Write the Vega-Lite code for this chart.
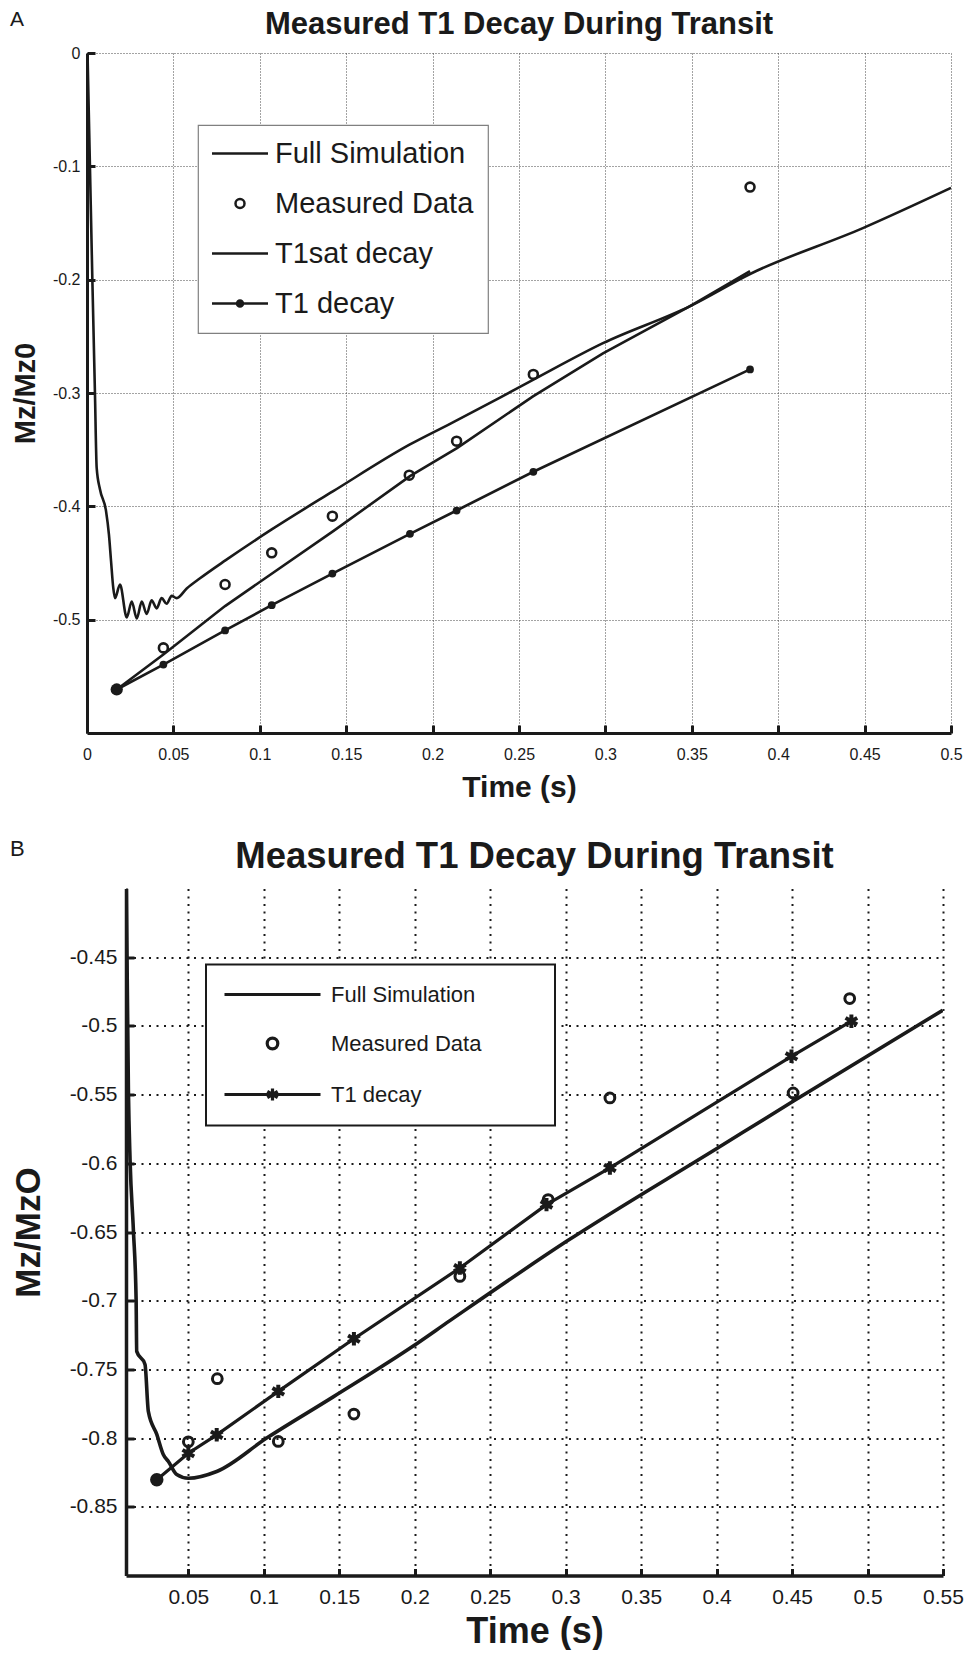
{
  "$schema": "https://vega.github.io/schema/vega-lite/v6.json",
  "background": "white",
  "padding": {"left": 10, "top": 9, "right": 0, "bottom": 0},
  "config": {
    "view": {"stroke": null},
    "font": "Liberation Sans",
    "title": {"font": "Liberation Sans", "color": "#1a1a1a"},
    "axis": {"labelFont": "Liberation Sans", "titleFont": "Liberation Sans", "labelColor": "#1a1a1a", "titleColor": "#1a1a1a", "domainColor": "#1a1a1a", "tickColor": "#1a1a1a", "labelFlush": false, "labelOverlap": false, "titleFontWeight": "bold"}
  },
  "datasets": {
    "panelA": [
      {"series": "Full Simulation", "time": 0.0003, "mz": 0},
      {"series": "Full Simulation", "time": 0.001, "mz": -0.05},
      {"series": "Full Simulation", "time": 0.0017, "mz": -0.1},
      {"series": "Full Simulation", "time": 0.0031, "mz": -0.2},
      {"series": "Full Simulation", "time": 0.0046, "mz": -0.3},
      {"series": "Full Simulation", "time": 0.0056, "mz": -0.366},
      {"series": "Full Simulation", "time": 0.0075, "mz": -0.385},
      {"series": "Full Simulation", "time": 0.011, "mz": -0.404},
      {"series": "Full Simulation", "time": 0.0127, "mz": -0.425},
      {"series": "Full Simulation", "time": 0.0139, "mz": -0.448},
      {"series": "Full Simulation", "time": 0.0152, "mz": -0.472},
      {"series": "Full Simulation", "time": 0.0162, "mz": -0.481},
      {"series": "Full Simulation", "time": 0.0191, "mz": -0.469},
      {"series": "Full Simulation", "time": 0.023, "mz": -0.498},
      {"series": "Full Simulation", "time": 0.0259, "mz": -0.484},
      {"series": "Full Simulation", "time": 0.0288, "mz": -0.499},
      {"series": "Full Simulation", "time": 0.0317, "mz": -0.484},
      {"series": "Full Simulation", "time": 0.0345, "mz": -0.495},
      {"series": "Full Simulation", "time": 0.0374, "mz": -0.483},
      {"series": "Full Simulation", "time": 0.0403, "mz": -0.49},
      {"series": "Full Simulation", "time": 0.0432, "mz": -0.481},
      {"series": "Full Simulation", "time": 0.0461, "mz": -0.486},
      {"series": "Full Simulation", "time": 0.049, "mz": -0.479},
      {"series": "Full Simulation", "time": 0.0519, "mz": -0.481},
      {"series": "Full Simulation", "time": 0.0577, "mz": -0.4725},
      {"series": "Full Simulation", "time": 0.0654, "mz": -0.4635},
      {"series": "Full Simulation", "time": 0.0803, "mz": -0.4475},
      {"series": "Full Simulation", "time": 0.1069, "mz": -0.4204},
      {"series": "Full Simulation", "time": 0.1425, "mz": -0.3866},
      {"series": "Full Simulation", "time": 0.1869, "mz": -0.3454},
      {"series": "Full Simulation", "time": 0.2101, "mz": -0.3272},
      {"series": "Full Simulation", "time": 0.239, "mz": -0.304},
      {"series": "Full Simulation", "time": 0.2581, "mz": -0.2884},
      {"series": "Full Simulation", "time": 0.2986, "mz": -0.256},
      {"series": "Full Simulation", "time": 0.349, "mz": -0.2233},
      {"series": "Full Simulation", "time": 0.3837, "mz": -0.195},
      {"series": "Full Simulation", "time": 0.449, "mz": -0.1545},
      {"series": "Full Simulation", "time": 0.5, "mz": -0.119},
      {"series": "T1sat decay", "time": 0.0172, "mz": -0.5616},
      {"series": "T1sat decay", "time": 0.0442, "mz": -0.5307},
      {"series": "T1sat decay", "time": 0.0799, "mz": -0.488},
      {"series": "T1sat decay", "time": 0.1425, "mz": -0.4219},
      {"series": "T1sat decay", "time": 0.1869, "mz": -0.3733},
      {"series": "T1sat decay", "time": 0.2141, "mz": -0.3486},
      {"series": "T1sat decay", "time": 0.2581, "mz": -0.303},
      {"series": "T1sat decay", "time": 0.2986, "mz": -0.265},
      {"series": "T1sat decay", "time": 0.349, "mz": -0.2233},
      {"series": "T1sat decay", "time": 0.3837, "mz": -0.1924},
      {"series": "T1 decay", "marker": "start", "time": 0.0172, "mz": -0.5616},
      {"series": "T1 decay", "marker": "step", "time": 0.0442, "mz": -0.5396},
      {"series": "T1 decay", "marker": "step", "time": 0.0799, "mz": -0.5095},
      {"series": "T1 decay", "marker": "step", "time": 0.1069, "mz": -0.4872},
      {"series": "T1 decay", "marker": "step", "time": 0.142, "mz": -0.4593},
      {"series": "T1 decay", "marker": "step", "time": 0.1869, "mz": -0.4243},
      {"series": "T1 decay", "marker": "step", "time": 0.2139, "mz": -0.4037},
      {"series": "T1 decay", "marker": "step", "time": 0.2583, "mz": -0.3695},
      {"series": "T1 decay", "marker": "step", "time": 0.3837, "mz": -0.2792},
      {"series": "Measured Data", "time": 0.0442, "mz": -0.5249},
      {"series": "Measured Data", "time": 0.0799, "mz": -0.469},
      {"series": "Measured Data", "time": 0.1069, "mz": -0.441},
      {"series": "Measured Data", "time": 0.142, "mz": -0.4087},
      {"series": "Measured Data", "time": 0.1865, "mz": -0.3725},
      {"series": "Measured Data", "time": 0.2139, "mz": -0.3425},
      {"series": "Measured Data", "time": 0.2583, "mz": -0.2836},
      {"series": "Measured Data", "time": 0.3837, "mz": -0.1183}
    ],
    "panelB": [
      {"series": "Full Simulation", "time": 0.0088, "mz": -0.39},
      {"series": "Full Simulation", "time": 0.0103, "mz": -0.5476},
      {"series": "Full Simulation", "time": 0.0114, "mz": -0.5978},
      {"series": "Full Simulation", "time": 0.0136, "mz": -0.6488},
      {"series": "Full Simulation", "time": 0.0154, "mz": -0.699},
      {"series": "Full Simulation", "time": 0.0158, "mz": -0.7369},
      {"series": "Full Simulation", "time": 0.0213, "mz": -0.7464},
      {"series": "Full Simulation", "time": 0.0235, "mz": -0.7806},
      {"series": "Full Simulation", "time": 0.0291, "mz": -0.7973},
      {"series": "Full Simulation", "time": 0.0334, "mz": -0.8119},
      {"series": "Full Simulation", "time": 0.0368, "mz": -0.817},
      {"series": "Full Simulation", "time": 0.0423, "mz": -0.8265},
      {"series": "Full Simulation", "time": 0.05, "mz": -0.8292},
      {"series": "Full Simulation", "time": 0.0688, "mz": -0.8243},
      {"series": "Full Simulation", "time": 0.1019, "mz": -0.8},
      {"series": "Full Simulation", "time": 0.146, "mz": -0.77},
      {"series": "Full Simulation", "time": 0.199, "mz": -0.733},
      {"series": "Full Simulation", "time": 0.2233, "mz": -0.7145},
      {"series": "Full Simulation", "time": 0.3006, "mz": -0.6568},
      {"series": "Full Simulation", "time": 0.3999, "mz": -0.5894},
      {"series": "Full Simulation", "time": 0.4507, "mz": -0.5549},
      {"series": "Full Simulation", "time": 0.5498, "mz": -0.4886},
      {"series": "T1 decay", "marker": "start", "time": 0.0291, "mz": -0.8303},
      {"series": "T1 decay", "marker": "step", "time": 0.05, "mz": -0.811},
      {"series": "T1 decay", "marker": "step", "time": 0.0688, "mz": -0.7976},
      {"series": "T1 decay", "marker": "step", "time": 0.1096, "mz": -0.766},
      {"series": "T1 decay", "marker": "step", "time": 0.1597, "mz": -0.7277},
      {"series": "T1 decay", "marker": "step", "time": 0.2299, "mz": -0.6762},
      {"series": "T1 decay", "marker": "step", "time": 0.2873, "mz": -0.6301},
      {"series": "T1 decay", "marker": "step", "time": 0.3293, "mz": -0.6034},
      {"series": "T1 decay", "marker": "step", "time": 0.4496, "mz": -0.5221},
      {"series": "T1 decay", "marker": "step", "time": 0.4893, "mz": -0.4966},
      {"series": "Measured Data", "time": 0.05, "mz": -0.8027},
      {"series": "Measured Data", "time": 0.0692, "mz": -0.7568},
      {"series": "Measured Data", "time": 0.1096, "mz": -0.8024},
      {"series": "Measured Data", "time": 0.1597, "mz": -0.7825},
      {"series": "Measured Data", "time": 0.2299, "mz": -0.6823},
      {"series": "Measured Data", "time": 0.2884, "mz": -0.6264},
      {"series": "Measured Data", "time": 0.3293, "mz": -0.5524},
      {"series": "Measured Data", "time": 0.4507, "mz": -0.5488},
      {"series": "Measured Data", "time": 0.4882, "mz": -0.4801}
    ]
  },
  "resolve": {"scale": {"color": "independent", "size": "independent"}, "legend": {"color": "independent", "size": "independent"}},
  "spacing": 35.5,
  "vconcat": [
    {
      "title": {"text": "A", "anchor": "start", "frame": "bounds", "fontSize": 21, "fontWeight": "normal", "offset": -21},
      "spacing": 0,
      "hconcat": [
        {"width": 1, "height": 1, "data": {"values": []}, "mark": {"type": "point"}},
        {
          "width": 864,
          "height": 680,
          "title": {"text": "Measured T1 Decay During Transit", "fontSize": 31, "fontWeight": "bold", "anchor": "middle", "offset": 4},
          "data": {"name": "panelA"},
          "encoding": {
            "x": {"field": "time", "type": "quantitative", "scale": {"domain": [0, 0.5], "nice": false, "zero": false},
              "axis": {"values": [0, 0.05, 0.1, 0.15, 0.2, 0.25, 0.3, 0.35, 0.4, 0.45, 0.5], "labelExpr": "'' + datum.value", "title": "Time (s)", "titleFontSize": 30, "titlePadding": 0, "minExtent": 39, "maxExtent": 39, "labelFontSize": 16, "labelPadding": 21, "tickSize": -8, "tickWidth": 3, "domainWidth": 3, "grid": true, "gridDash": [1, 2], "gridColor": "#333", "gridOpacity": 0.9, "gridWidth": 1}},
            "y": {"field": "mz", "type": "quantitative", "scale": {"domain": [-0.6, 0], "nice": false, "zero": false},
              "axis": {"values": [-0.5, -0.4, -0.3, -0.2, -0.1, 0], "labelExpr": "'' + datum.value", "title": "Mz/Mz0", "titleFontSize": 29, "titlePadding": 11, "minExtent": 36, "maxExtent": 36, "labelFontSize": 16, "labelPadding": 15, "tickSize": -8, "tickWidth": 3, "domainWidth": 3, "grid": true, "gridDash": [1, 2], "gridColor": "#333", "gridOpacity": 0.9, "gridWidth": 1}},
            "color": {"field": "series", "type": "nominal",
              "scale": {"domain": ["Full Simulation", "Measured Data", "T1sat decay", "T1 decay"], "range": ["#1a1a1a", "#1a1a1a", "#1a1a1a", "#1a1a1a"]},
              "legend": {"orient": "none", "legendX": 188, "legendY": 72, "title": null, "padding": 14, "strokeColor": "#808080", "fillColor": "white",
                "labelFont": "Liberation Sans", "labelFontSize": 29, "labelColor": "#1a1a1a", "labelOffset": 20.5, "labelLimit": 400,
                "symbolSize": 400, "symbolStrokeWidth": 2.5, "rowPadding": 20, "symbolOffset": 13.5,
                "encode": {
                  "symbols": {"update": {
                    "shape": {"signal": "datum.value === 'Measured Data' ? 'M-0.45,0A0.45,0.45,0,1,1,0.45,0A0.45,0.45,0,1,1,-0.45,0Z' : datum.value === 'T1 decay' ? 'M-2.8,0H2.8M-0.3,0A0.3,0.3,0,1,1,0.3,0A0.3,0.3,0,1,1,-0.3,0ZM-0.14,0A0.14,0.14,0,1,1,0.14,0A0.14,0.14,0,1,1,-0.14,0Z' : 'M-2.8,0H2.8'"},
                    "fill": {"value": "transparent"},
                    "stroke": {"value": "#1a1a1a"},
                    "strokeWidth": {"value": 2.5},
                    "opacity": {"value": 1}
                  }},
                  "legend": {"update": {"strokeWidth": {"value": 1.2}}}
                }}}
          },
          "layer": [
            {"transform": [{"filter": "datum.series === 'Full Simulation'"}], "mark": {"type": "line", "strokeWidth": 2.6, "interpolate": "monotone", "clip": true}},
            {"transform": [{"filter": "datum.series === 'T1sat decay'"}], "mark": {"type": "line", "strokeWidth": 2.6, "clip": true}},
            {"transform": [{"filter": "datum.series === 'T1 decay'"}], "mark": {"type": "line", "strokeWidth": 2.6, "clip": true}},
            {"transform": [{"filter": "datum.series === 'Measured Data'"}], "mark": {"type": "point", "filled": false, "shape": "circle", "size": 80, "strokeWidth": 2.6, "opacity": 1, "clip": true}},
            {"transform": [{"filter": "datum.series === 'T1 decay'"}], "mark": {"type": "point", "filled": true, "shape": "circle", "opacity": 1, "clip": true},
              "encoding": {"color": {"value": "#1a1a1a"}, "size": {"field": "marker", "type": "nominal", "scale": {"domain": ["start", "step"], "range": [150, 60]}, "legend": null}}}
          ]
        }
      ]
    },
    {
      "title": {"text": "B", "anchor": "start", "frame": "bounds", "fontSize": 22, "fontWeight": "normal", "offset": -22},
      "spacing": 0,
      "hconcat": [
        {"width": 1, "height": 1, "data": {"values": []}, "mark": {"type": "point"}},
        {
          "width": 817,
          "height": 687,
          "title": {"text": "Measured T1 Decay During Transit", "fontSize": 36.5, "fontWeight": "bold", "anchor": "middle", "offset": 13},
          "data": {"name": "panelB"},
          "encoding": {
            "x": {"field": "time", "type": "quantitative", "scale": {"domain": [0.0087, 0.55], "nice": false, "zero": false},
              "axis": {"values": [0.05, 0.1, 0.15, 0.2, 0.25, 0.3, 0.35, 0.4, 0.45, 0.5, 0.55], "labelExpr": "'' + datum.value", "title": "Time (s)", "titleFontSize": 36, "titlePadding": 0, "minExtent": 39, "maxExtent": 39, "labelFontSize": 21, "labelPadding": 18, "tickSize": -7, "tickWidth": 3, "domainWidth": 3.5, "grid": true, "gridDash": [2, 5.5], "gridColor": "#1a1a1a", "gridOpacity": 1, "gridWidth": 2}},
            "y": {"field": "mz", "type": "quantitative", "scale": {"domain": [-0.9, -0.4], "nice": false, "zero": false},
              "axis": {"values": [-0.85, -0.8, -0.75, -0.7, -0.65, -0.6, -0.55, -0.5, -0.45], "labelExpr": "'' + datum.value", "title": "Mz/MzO", "titleFontSize": 35, "titlePadding": 20, "minExtent": 60, "maxExtent": 60, "labelFontSize": 21, "labelPadding": 17, "tickSize": -8, "tickWidth": 3, "domainWidth": 3.5, "grid": true, "gridDash": [2, 5.5], "gridColor": "#1a1a1a", "gridOpacity": 1, "gridWidth": 2}},
            "color": {"field": "series", "type": "nominal",
              "scale": {"domain": ["Full Simulation", "Measured Data", "T1 decay"], "range": ["#1a1a1a", "#1a1a1a", "#1a1a1a"]},
              "legend": {"orient": "none", "legendX": 196, "legendY": 76, "title": "\u00a0", "titleOrient": "right", "titlePadding": 56, "titleFontSize": 22, "titleColor": "#1a1a1a",
                "padding": 18, "strokeColor": "#1a1a1a", "fillColor": "white",
                "labelFont": "Liberation Sans", "labelFontSize": 22, "labelColor": "#1a1a1a", "labelOffset": 46.5, "labelLimit": 500,
                "symbolSize": 400, "symbolStrokeWidth": 3, "rowPadding": 26, "symbolOffset": 36.5,
                "encode": {
                  "symbols": {"update": {
                    "shape": {"signal": "datum.value === 'Measured Data' ? 'M-0.53,0A0.53,0.53,0,1,1,0.53,0A0.53,0.53,0,1,1,-0.53,0Z' : datum.value === 'T1 decay' ? 'M-4.8,0H4.8M0,-0.6L0,0.6M-0.52,-0.3L0.52,0.3M-0.52,0.3L0.52,-0.3' : 'M-4.8,0H4.8'"},
                    "fill": {"value": "transparent"},
                    "stroke": {"value": "#1a1a1a"},
                    "strokeWidth": {"value": 3.2},
                    "opacity": {"value": 1}
                  }},
                  "legend": {"update": {"strokeWidth": {"value": 2}}}
                }}}
          },
          "layer": [
            {"transform": [{"filter": "datum.series === 'Full Simulation'"}], "mark": {"type": "line", "strokeWidth": 3.6, "interpolate": "monotone", "clip": true}},
            {"transform": [{"filter": "datum.series === 'T1 decay'"}], "mark": {"type": "line", "strokeWidth": 3.2, "clip": true}},
            {"transform": [{"filter": "datum.series === 'Measured Data'"}], "mark": {"type": "point", "filled": false, "shape": "circle", "size": 95, "strokeWidth": 3, "opacity": 1, "clip": true}},
            {"transform": [{"filter": "datum.series === 'T1 decay' && datum.marker === 'step'"}], "mark": {"type": "point", "filled": false, "shape": "M0,-1L0,1M-0.87,-0.5L0.87,0.5M-0.87,0.5L0.87,-0.5", "size": 180, "strokeWidth": 4, "opacity": 1, "clip": true},
              "encoding": {"color": {"value": "#1a1a1a"}}},
            {"transform": [{"filter": "datum.series === 'T1 decay' && datum.marker === 'start'"}], "mark": {"type": "point", "filled": true, "shape": "circle", "size": 180, "opacity": 1, "clip": true},
              "encoding": {"color": {"value": "#1a1a1a"}}}
          ]
        }
      ]
    }
  ]
}
